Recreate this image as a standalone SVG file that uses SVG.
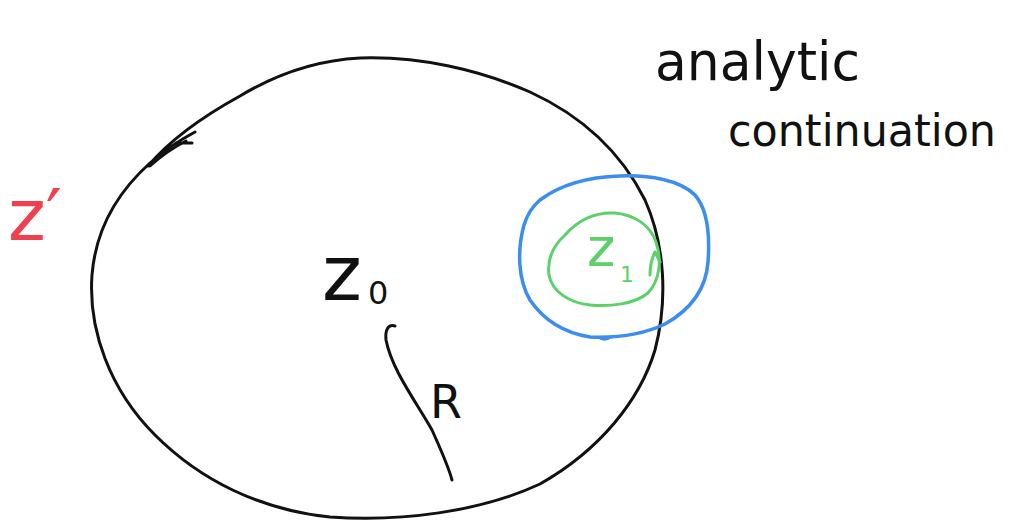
<svg xmlns="http://www.w3.org/2000/svg" width="1010" height="523" viewBox="0 0 1010 523">
<style>
.stroke{fill:none;stroke-linecap:round;stroke-linejoin:round}
.blk{stroke:#111;stroke-width:3}
.blue{stroke:#3b8ef0;stroke-width:3.5}
.green{stroke:#5cd16a;stroke-width:3}
.hand{font-family:"DejaVu Sans","Liberation Sans",sans-serif;font-weight:normal}
</style>
<rect width="1010" height="523" fill="#fff"/>
<g id="big-disk">
<path class="stroke blk" d="M148,166 C170,140 200,118 240,96 C280,72 320,60 360,58 C420,56 480,70 530,92 C580,115 620,150 645,200 C665,245 668,300 655,350 C640,400 600,450 540,484 C480,512 400,522 330,517 C260,510 200,480 155,435 C110,390 88,330 92,275 C96,225 120,190 150,163 C165,150 180,140 195,132"/>
<path class="stroke blk" d="M150,166 C160,157 172,148 186,141 M176,143 L192,143"/>
</g>
<g id="blue-disk">
<path class="stroke blue" d="M540,200 C560,185 585,177 620,176 C650,175 680,180 695,195 C708,210 710,235 708,262 C706,290 690,310 665,324 C640,336 615,338 590,337 C565,333 545,322 530,300 C518,280 517,250 524,225 C528,212 534,205 540,200 Z"/>
<path class="stroke blue" style="stroke-width:2.5" d="M598,337 C602,340 607,340 611,337"/>
</g>
<g id="green-disk">
<path class="stroke green" d="M565,235 C578,220 595,212 615,213 C635,215 650,225 656,242 C662,260 660,280 648,293 C635,304 610,307 590,305 C570,303 552,292 549,275 C547,260 553,246 565,235 Z"/>
<path class="stroke green" d="M650,275 C650,265 652,258 655,252 L660,262"/>
</g>
<g id="radius">
<path class="stroke blk" d="M395,326 C388,324 385,330 386,340 C392,370 415,400 432,430 C440,448 448,465 452,480"/>
</g>
<g id="labels">
<text class="hand" x="655" y="80" font-size="54" fill="#111" textLength="205" lengthAdjust="spacingAndGlyphs">analytic</text>
<text class="hand" x="728" y="146" font-size="45" fill="#111" textLength="268" lengthAdjust="spacingAndGlyphs">continuation</text>
<text class="hand" x="8" y="240" font-size="72" fill="#f04050">z′</text>
<text class="hand" x="322" y="300" font-size="76" fill="#111">z</text>
<text class="hand" x="368" y="304" font-size="32" fill="#111">0</text>
<text class="hand" x="587" y="266" font-size="54" fill="#5cd16a">z</text>
<text class="hand" x="620" y="282" font-size="22" fill="#5cd16a">1</text>
<text class="hand" x="430" y="418" font-size="46" fill="#111">R</text>
</g>
</svg>
